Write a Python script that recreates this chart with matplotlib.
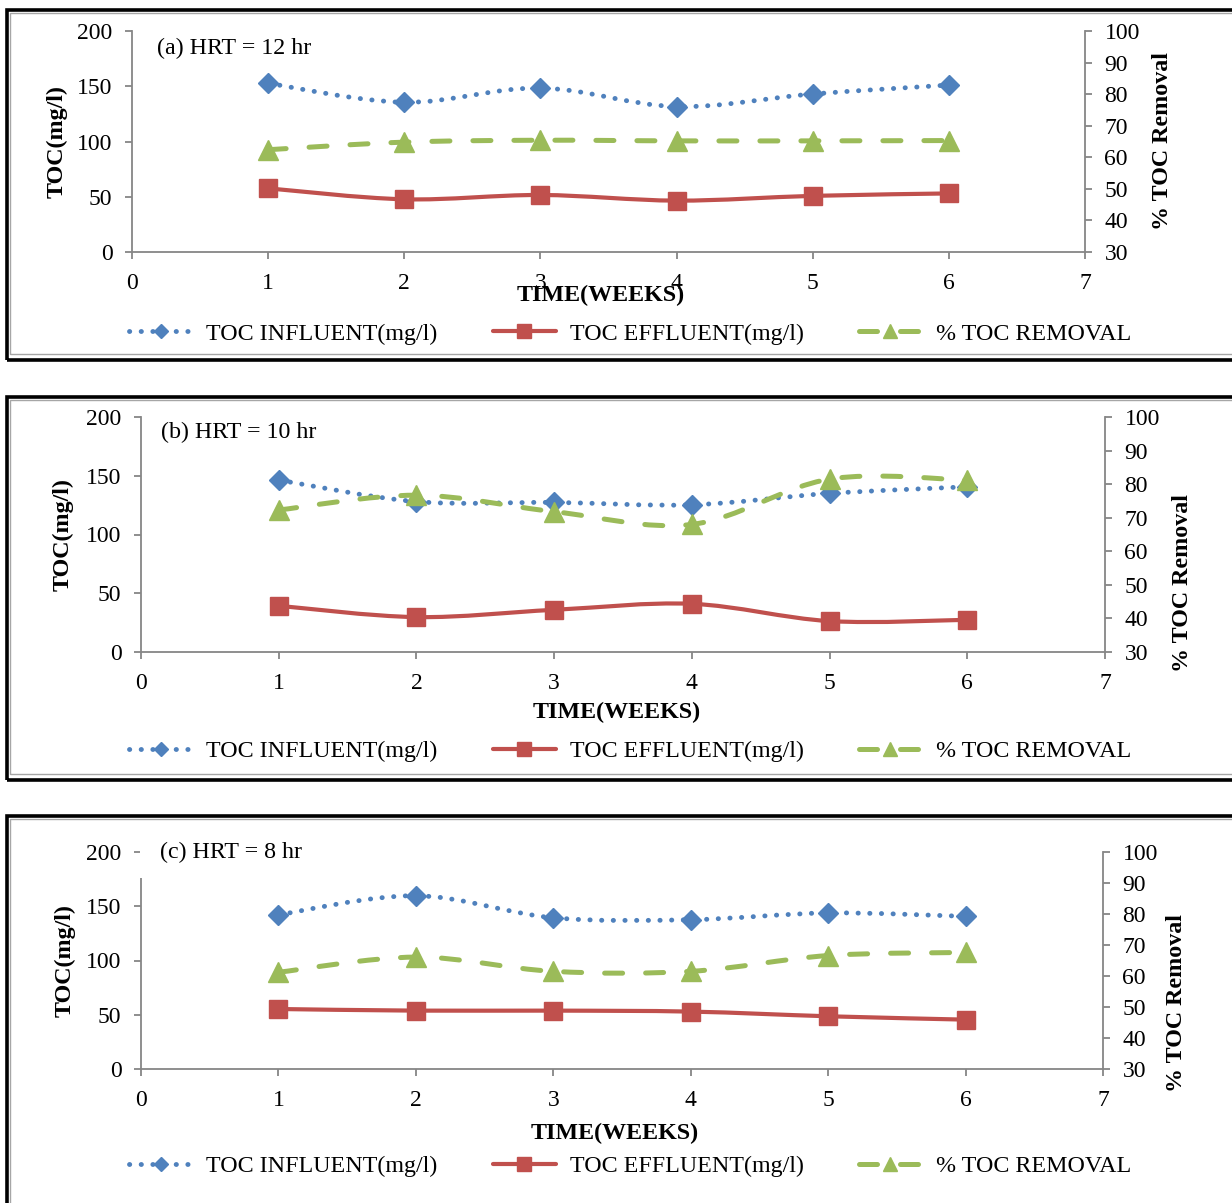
import matplotlib
matplotlib.use('Agg')
import matplotlib.pyplot as plt
import numpy as np
from matplotlib.path import Path
from matplotlib.patches import PathPatch, Rectangle
from matplotlib.lines import Line2D

plt.rcParams['font.family'] = ['Liberation Serif', 'DejaVu Serif']

# data
weeks = [1, 2, 3, 4, 5, 6]
panel_titles = ['(a) HRT = 12 hr', '(b) HRT = 10 hr', '(c) HRT = 8 hr']

influent_12 = [152.6, 135.5, 148.4, 131.6, 143.0, 151.1]
effluent_12 = [57.6, 47.7, 51.6, 46.5, 50.8, 53.0]
removal_12 = [62.4, 64.8, 65.4, 65.2, 65.2, 65.3]

influent_10 = [146.3, 128.0, 127.3, 125.3, 135.0, 140.6]
effluent_10 = [39.3, 29.7, 35.9, 41.0, 26.3, 27.4]
removal_10 = [72.3, 76.7, 71.8, 68.0, 81.5, 81.2]

influent_8 = [142.2, 159.7, 139.4, 137.6, 143.8, 140.7]
effluent_8 = [55.3, 53.8, 53.8, 52.9, 48.6, 45.5]
removal_8 = [61.2, 66.1, 61.5, 61.5, 66.6, 67.6]

series_names = ['TOC INFLUENT(mg/l)', 'TOC EFFLUENT(mg/l)', '% TOC REMOVAL']

W, H = 1232, 1203
BLUE = '#4F81BD'
RED = '#C0504D'
GREEN = '#9BBB59'
GRAY = '#868686'
FS = 17
LFS = 17.3


def fx(px):
    return px / W


def fy(py):
    return 1 - py / H


def smooth_path(x, y):
    # excel-style smoothed line through the points (bezier segments)
    pts = np.column_stack([x, y]).astype(float)
    n = len(pts)
    verts = [pts[0]]
    codes = [Path.MOVETO]
    for i in range(n - 1):
        p0 = pts[max(i - 1, 0)]
        p1 = pts[i]
        p2 = pts[i + 1]
        p3 = pts[min(i + 2, n - 1)]
        verts += [p1 + (p2 - p0) / 6, p2 - (p3 - p1) / 6, p2]
        codes += [Path.CURVE4] * 3
    return Path(verts, codes)


styles = [
    dict(color=BLUE, lw=3.5, ls=(0, (0.05, 2.35)), marker='D', ms=10, lms=7),
    dict(color=RED, lw=3.0, ls='-', marker='s', ms=13.5, lms=10.5),
    dict(color=GREEN, lw=3.6, ls=(0, (3.6, 4.6)), marker='^', ms=14, lms=10),
]

# pixel layout of each panel
layouts = [
    dict(ax=(132, 1085, 31, 252), title=(157, 48), ylab=57, y2lab=(1163, 141),
         xlab=(601, 295), leg=334, frame=(10, 360)),
    dict(ax=(141, 1105, 417, 652), title=(161, 432), ylab=63, y2lab=(1183, 583),
         xlab=(617, 712), leg=751, frame=(397, 780)),
    dict(ax=(141, 1103, 852, 1069), title=(160, 852), ylab=65, y2lab=(1177, 1003),
         xlab=(615, 1133), leg=1166, frame=(816, 1210)),
]

panel_data = [
    (influent_12, effluent_12, removal_12),
    (influent_10, effluent_10, removal_10),
    (influent_8, effluent_8, removal_8),
]

fig = plt.figure(figsize=(W / 100, H / 100), dpi=100)

for k, (lay, (infl, effl, rem)) in enumerate(zip(layouts, panel_data)):
    x0, x1, y0, y1 = lay['ax']
    ax = fig.add_axes([fx(x0), fy(y1), (x1 - x0) / W, (y1 - y0) / H])
    ax.set_xlim(0, 7)
    ax.set_ylim(0, 200)
    ax.set_xticks(range(0, 8))
    ax.set_yticks(range(0, 201, 50))
    ax.patch.set_alpha(0)
    for s in ['top', 'right']:
        ax.spines[s].set_visible(False)
    for s in ['left', 'bottom']:
        ax.spines[s].set_color(GRAY)
        ax.spines[s].set_linewidth(1.3)
    ax.tick_params(axis='x', direction='out', length=5, width=1.3, color=GRAY,
                   labelsize=FS, pad=10)
    ax.tick_params(axis='y', direction='out', length=5, width=1.3, color=GRAY,
                   labelsize=FS, pad=9)

    ax2 = ax.twinx()
    ax2.set_ylim(30, 100)
    ax2.set_yticks(range(30, 101, 10))
    for s in ['top', 'left', 'bottom']:
        ax2.spines[s].set_visible(False)
    ax2.spines['right'].set_color(GRAY)
    ax2.spines['right'].set_linewidth(1.3)
    ax2.tick_params(axis='y', direction='out', length=5, width=1.3, color=GRAY,
                    labelsize=FS, pad=9)

    for a, vals, st in [(ax, infl, styles[0]), (ax, effl, styles[1]), (ax2, rem, styles[2])]:
        patch = PathPatch(smooth_path(weeks, vals), fill=False, edgecolor=st['color'],
                          lw=st['lw'], linestyle=st['ls'], capstyle='round',
                          joinstyle='round')
        a.add_patch(patch)
        a.plot(weeks, vals, linestyle='none', marker=st['marker'], ms=st['ms'],
               color=st['color'], mec=st['color'], clip_on=False)

    # labels
    fig.text(fx(lay['ylab']), fy((y0 + y1) / 2), 'TOC(mg/l)', rotation=90,
             ha='center', va='center', fontsize=LFS, fontweight='bold')
    fig.text(fx(lay['y2lab'][0]), fy(lay['y2lab'][1]), '% TOC Removal', rotation=90,
             ha='center', va='center', fontsize=LFS, fontweight='bold')
    fig.text(fx(lay['xlab'][0]), fy(lay['xlab'][1]), 'TIME(WEEKS)',
             ha='center', va='center', fontsize=LFS, fontweight='bold')

    if k == 2:
        # the white label box hides the top of the left spine
        fig.add_artist(Rectangle((fx(139.5), fy(878)), (330 - 139.5) / W, 40 / H,
                                 facecolor='white', edgecolor='none', zorder=2))
    fig.text(fx(lay['title'][0]), fy(lay['title'][1]), panel_titles[k],
             ha='left', va='center', fontsize=LFS, zorder=4)

    handles = [Line2D([], [], color=st['color'], lw=st['lw'], linestyle=st['ls'],
                      marker=st['marker'], ms=st['lms'], mec=st['color'],
                      dash_capstyle='round', solid_capstyle='round')
               for st in styles]
    fig.legend(handles, series_names, loc='center',
               bbox_to_anchor=(fx(630), fy(lay['leg'])), ncol=3, frameon=False,
               fontsize=LFS, numpoints=1, handlelength=2.65, handletextpad=0.55,
               columnspacing=2.3, borderpad=0)

    # panel frame
    top, bottom = lay['frame']
    fig.add_artist(Rectangle((fx(7), fy(bottom)), (1300 - 7) / W, (bottom - top) / H,
                             fill=False, edgecolor='black', lw=2.6, zorder=1))
    fig.add_artist(Rectangle((fx(10), fy(bottom - 6)), (1300 - 10) / W,
                             (bottom - top - 9) / H,
                             fill=False, edgecolor='#a6a6a6', lw=1.0, zorder=1))

fig.savefig('out.png', dpi=100)
